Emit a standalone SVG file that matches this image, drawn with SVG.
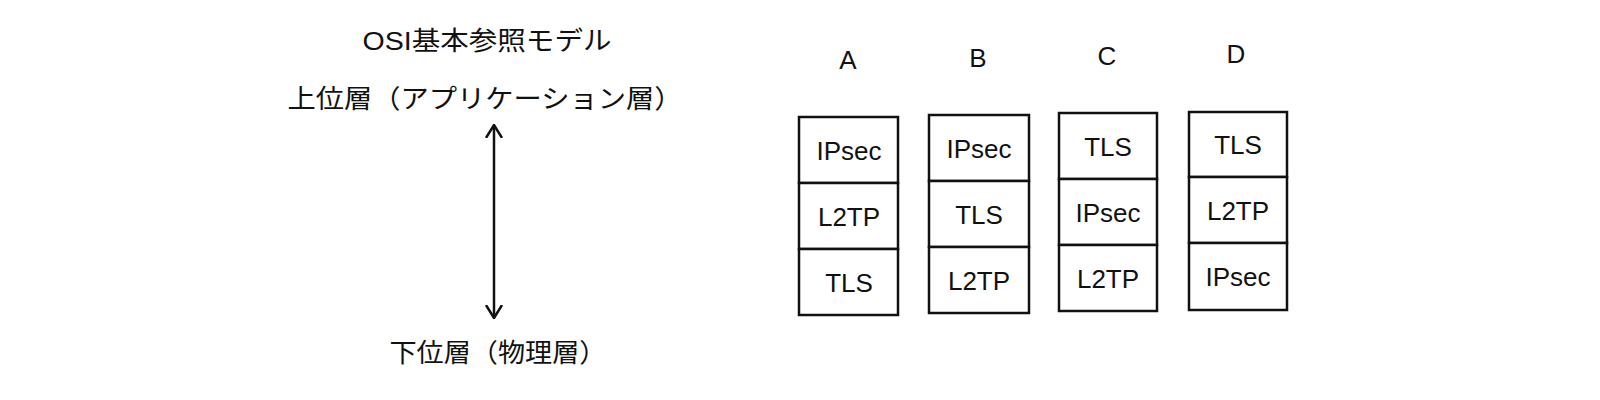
<svg xmlns="http://www.w3.org/2000/svg" width="1600" height="400" viewBox="0 0 1600 400">
<style>
text{font-family:"Liberation Sans","Noto Sans CJK JP",sans-serif;fill:#111;text-anchor:middle}
.j{font-size:26px}
.b{font-size:26px}
.l{font-size:26px}
rect{fill:#fff;stroke:#111;stroke-width:2.5}
</style>
<defs><marker id="ah" markerWidth="14" markerHeight="20" refX="13" refY="10" orient="auto-start-reverse" markerUnits="userSpaceOnUse"><path d="M0,2 L13,10 L0,18" fill="none" stroke="#111" stroke-width="2.5"/></marker></defs>
<rect x="0" y="0" width="1600" height="400" style="stroke:none"/>
<g id="title"><text class="j" x="487" y="50" textLength="249" lengthAdjust="spacingAndGlyphs">OSI基本参照モデル</text></g>
<g id="upper"><text class="j" x="485" y="108" textLength="395" lengthAdjust="spacingAndGlyphs">上位層（アプリケーション層）</text></g>
<g id="lower"><text class="j" x="498" y="362" textLength="217" lengthAdjust="spacingAndGlyphs">下位層（物理層）</text></g>
<g id="connectors"><line x1="494" y1="125" x2="494" y2="318" stroke="#111" stroke-width="2.5" marker-start="url(#ah)" marker-end="url(#ah)"/></g>
<g id="A"><text class="l" x="848" y="69">A</text>
<rect x="799" y="117" width="99" height="66"/><rect x="799" y="183" width="99" height="66"/><rect x="799" y="249" width="99" height="66"/>
<text class="b" x="849" y="160">IPsec</text><text class="b" x="849" y="226">L2TP</text><text class="b" x="849" y="292">TLS</text></g>
<g id="B"><text class="l" x="978" y="67">B</text>
<rect x="929" y="115" width="100" height="66"/><rect x="929" y="181" width="100" height="66"/><rect x="929" y="247" width="100" height="66"/>
<text class="b" x="979" y="158">IPsec</text><text class="b" x="979" y="224">TLS</text><text class="b" x="979" y="290">L2TP</text></g>
<g id="C"><text class="l" x="1107" y="65">C</text>
<rect x="1059" y="113" width="98" height="66"/><rect x="1059" y="179" width="98" height="66"/><rect x="1059" y="245" width="98" height="66"/>
<text class="b" x="1108" y="156">TLS</text><text class="b" x="1108" y="222">IPsec</text><text class="b" x="1108" y="288">L2TP</text></g>
<g id="D"><text class="l" x="1236" y="63">D</text>
<rect x="1189" y="112" width="98" height="65"/><rect x="1189" y="177" width="98" height="66"/><rect x="1189" y="243" width="98" height="67"/>
<text class="b" x="1238" y="154">TLS</text><text class="b" x="1238" y="220">L2TP</text><text class="b" x="1238" y="286">IPsec</text></g>
</svg>
